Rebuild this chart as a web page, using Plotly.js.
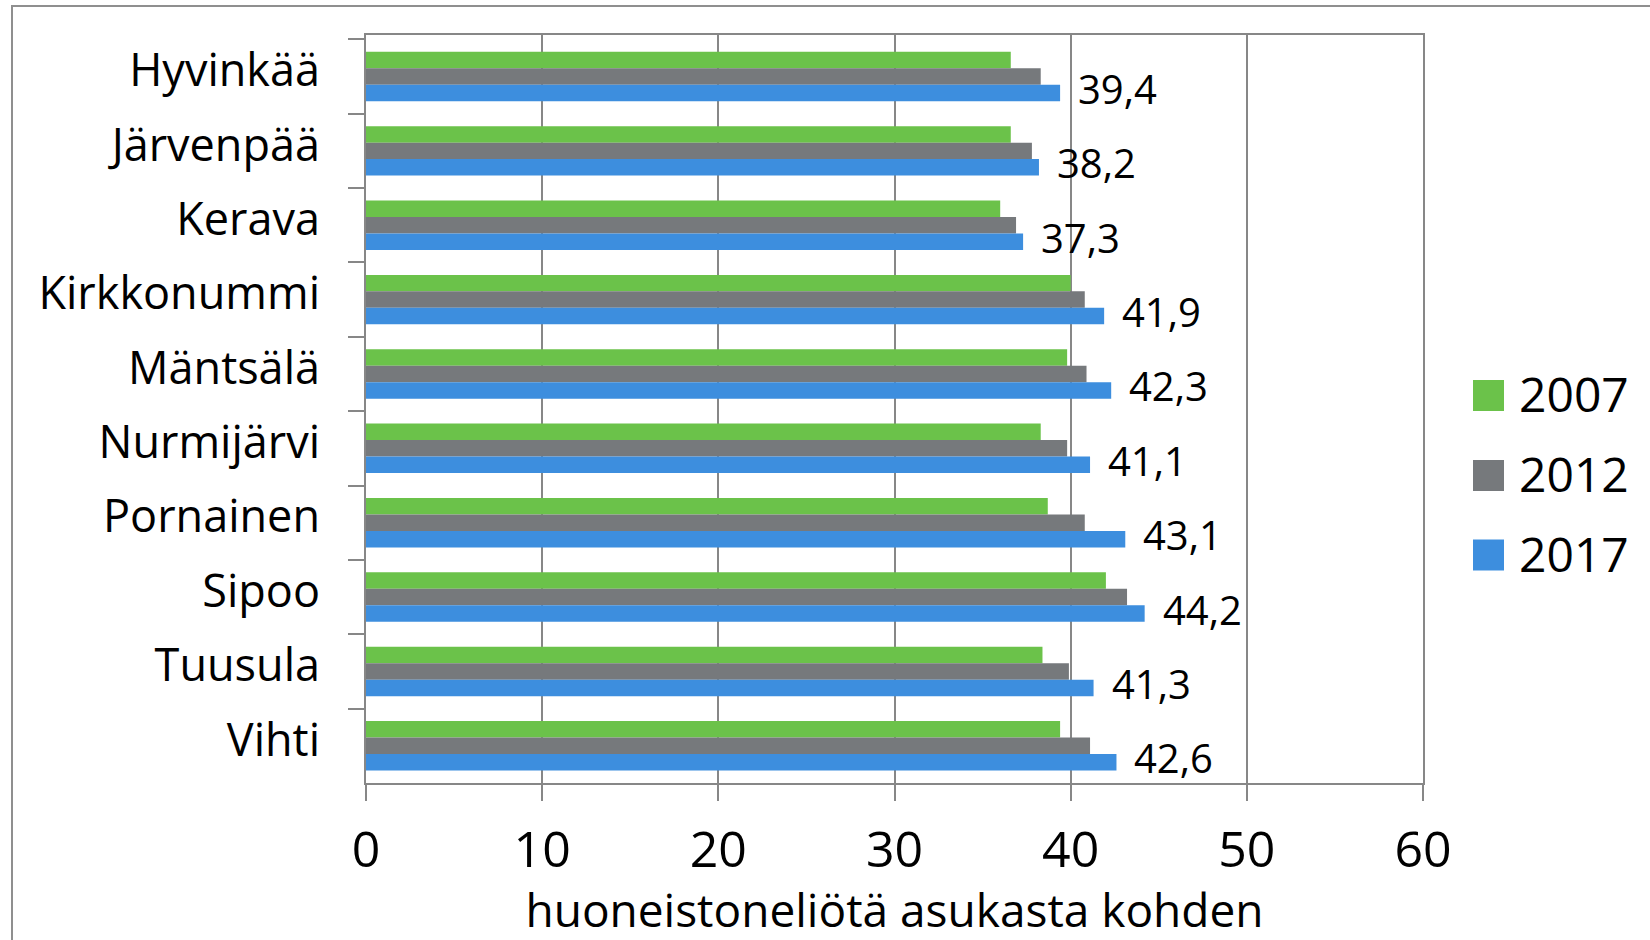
<!DOCTYPE html>
<html>
<head>
<meta charset="utf-8">
<script src="https://cdn.plot.ly/plotly-3.0.1.min.js"></script>
<style>html,body{margin:0;padding:0;background:#fff;}#chart{width:1650px;height:940px;}</style>
</head>
<body>
<div id="chart"></div>
<script>
const municipalities = ["Hyvinkää","Järvenpää","Kerava","Kirkkonummi","Mäntsälä","Nurmijärvi","Pornainen","Sipoo","Tuusula","Vihti"];
const years = ["2007","2012","2017"];
const colors = ["#6BC24A","#76797C","#3D8EDE"];
const values2007 = [36.6, 36.6, 36.0, 40.0, 39.8, 38.3, 38.7, 42.0, 38.4, 39.4];
const values2012 = [38.3, 37.8, 36.9, 40.8, 40.9, 39.8, 40.8, 43.2, 39.9, 41.1];
const values2017 = [39.4, 38.2, 37.3, 41.9, 42.3, 41.1, 43.1, 44.2, 41.3, 42.6];
const xTicks = [0,10,20,30,40,50,60];
const xTitle = "huoneistoneliötä asukasta kohden";

const W = 1650, H = 940;
const M = {l: 366, r: 227, t: 35, b: 157};
const pw = W - M.l - M.r, ph = H - M.t - M.b;
const px = x => (x - M.l) / pw;
const py = y => (H - M.b - y) / ph;

const font = '"Open Sans", "Noto Sans", sans-serif';
const lineCol = '#878787';

const series = [values2007, values2012, values2017];
const traces = series.map((v, i) => ({
  type: 'bar', orientation: 'h',
  y: municipalities, x: v, name: years[i],
  marker: {color: colors[i], line: {width: 0}},
  showlegend: false, hoverinfo: 'x+y'
}));

const annotations = values2017.map((v, i) => ({
  x: v, y: municipalities[i], xref: 'x', yref: 'y',
  text: v.toFixed(1).replace('.', ','),
  showarrow: false, xanchor: 'left', yanchor: 'middle',
  xshift: 16, yshift: -12,
  font: {family: font, size: 40, color: '#000'}
}));

const shapes = [{
  type: 'rect', xref: 'paper', yref: 'paper',
  x0: px(12), x1: px(W + 20), y0: py(H + 20), y1: py(6),
  line: {color: '#8F8F8F', width: 2}, fillcolor: 'rgba(0,0,0,0)', layer: 'below'
}];

const legendRows = [395.5, 475.5, 555];
years.forEach((yr, i) => {
  shapes.push({
    type: 'rect', xref: 'paper', yref: 'paper',
    x0: px(1473), x1: px(1504), y0: py(legendRows[i] + 15.5), y1: py(legendRows[i] - 15.5),
    fillcolor: colors[i], line: {width: 0}
  });
  annotations.push({
    xref: 'paper', yref: 'paper', x: px(1517), y: py(legendRows[i] - 2),
    text: yr, showarrow: false, xanchor: 'left', yanchor: 'middle',
    font: {family: font, size: 48, color: '#000'}
  });
});

const layout = {
  width: W, height: H,
  margin: M,
  paper_bgcolor: '#fff', plot_bgcolor: '#fff',
  barmode: 'group', bargap: 0.335, bargroupgap: 0,
  showlegend: false,
  xaxis: {
    range: [0, 60], tickvals: xTicks, ticktext: xTicks.map(String),
    showgrid: true, gridcolor: lineCol, gridwidth: 2,
    showline: true, linecolor: lineCol, linewidth: 2, mirror: true,
    zeroline: false,
    ticks: 'outside', ticklen: 16, tickwidth: 2, tickcolor: lineCol,
    ticklabelstandoff: 6,
    tickfont: {family: font, size: 50, color: '#000'},
    title: {text: xTitle, font: {family: font, size: 46, color: '#000'}, standoff: 12}
  },
  yaxis: {
    type: 'category', autorange: 'reversed',
    showgrid: false,
    showline: true, linecolor: lineCol, linewidth: 2, mirror: true,
    ticks: 'outside', tickson: 'boundaries', ticklen: 16, tickwidth: 2, tickcolor: lineCol,
    ticklabelstandoff: 35, ticklabelshift: 6,
    tickfont: {family: font, size: 45, color: '#000'}
  },
  shapes: shapes,
  annotations: annotations
};

Plotly.newPlot('chart', traces, layout, {displayModeBar: false, staticPlot: true});
</script>
</body>
</html>
